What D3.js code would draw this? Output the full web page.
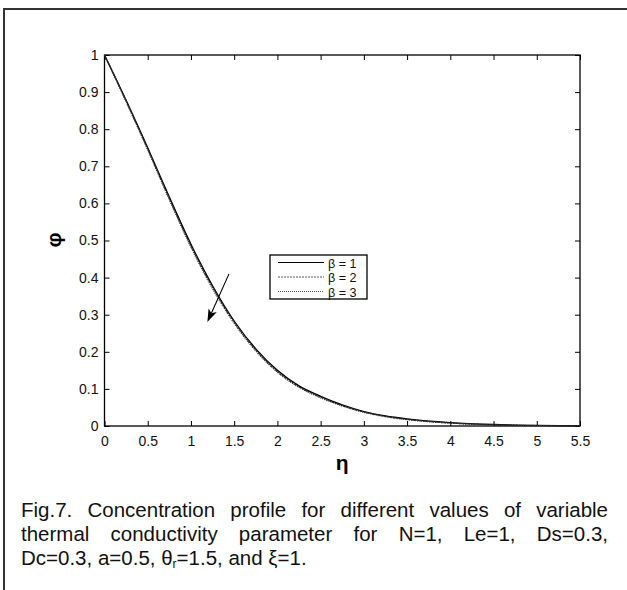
<!DOCTYPE html>
<html>
    <head>
        <title>Concentration profile</title>
        <script src="https://d3js.org/d3.v7.min.js"></script>
    </head>
    <style>
        body { margin: 0; background: #fff; }
        svg { font-family: "Liberation Sans", Arial, sans-serif; }
    </style>
    <body>
        <div class="graph"></div>
        <script>
            // eta values shared by all three curves
            const eta = [0, 0.25, 0.5, 0.75, 1.0, 1.25, 1.5, 1.75, 2.0, 2.25, 2.5, 2.75, 3.0, 3.25, 3.5, 4.0, 4.5, 5.0, 5.5];

            const phiBeta1 = [1, 0.878, 0.750, 0.617, 0.490, 0.378, 0.283, 0.208, 0.150, 0.108, 0.080, 0.057, 0.039, 0.027, 0.019, 0.009, 0.004, 0.0015, 0.0005];
            const phiBeta2 = [1, 0.876, 0.747, 0.613, 0.486, 0.374, 0.280, 0.205, 0.147, 0.106, 0.078, 0.055, 0.038, 0.026, 0.018, 0.008, 0.0035, 0.0012, 0.0004];
            const phiBeta3 = [1, 0.874, 0.744, 0.610, 0.482, 0.370, 0.277, 0.202, 0.145, 0.104, 0.076, 0.054, 0.037, 0.025, 0.017, 0.008, 0.003, 0.001, 0.0003];

            const seriesNames = ['\u03b2 = 1', '\u03b2 = 2', '\u03b2 = 3'];
            const xTicks = [0, 0.5, 1, 1.5, 2, 2.5, 3, 3.5, 4, 4.5, 5, 5.5];
            const yTicks = [0, 0.1, 0.2, 0.3, 0.4, 0.5, 0.6, 0.7, 0.8, 0.9, 1];

            // arrow annotation, in data units: [eta, phi] start and end
            const arrowFrom = [1.44, 0.41];
            const arrowTo = [1.19, 0.28];

            const captionLines = [
                'Fig.7. Concentration profile for different values of variable',
                'thermal conductivity parameter for N=1, Le=1, Ds=0.3,'
            ];

            const width = 627;
            const height = 590;
            const pLeft = 104.5, pRight = 580, pTop = 55, pBottom = 426;

            const x = d3.scaleLinear().domain([0, 5.5]).range([pLeft, pRight]);
            const y = d3.scaleLinear().domain([0, 1]).range([pBottom, pTop]);

            const svg = d3.select('.graph')
                .append('svg')
                .attr('width', width)
                .attr('height', height);

            // outer figure frame (only top and left visible)
            svg.append('path')
                .attr('d', `M4,${height} L4,9 L${width},9`)
                .attr('fill', 'none')
                .attr('stroke', '#333')
                .attr('stroke-width', 2);

            // ticks pointing inwards on all four sides
            const xAxisB = d3.axisBottom(x).tickValues(xTicks).tickSizeInner(-5).tickSizeOuter(0)
                .tickPadding(10).tickFormat(d3.format('~g'));
            const xAxisT = d3.axisTop(x).tickValues(xTicks).tickSizeInner(-5).tickSizeOuter(0).tickFormat('');
            const yAxisL = d3.axisLeft(y).tickValues(yTicks).tickSizeInner(-5).tickSizeOuter(0)
                .tickPadding(6).tickFormat(d3.format('~g'));
            const yAxisR = d3.axisRight(y).tickValues(yTicks).tickSizeInner(-5).tickSizeOuter(0).tickFormat('');

            const axes = [
                [xAxisB, `translate(0,${pBottom})`],
                [xAxisT, `translate(0,${pTop})`],
                [yAxisL, `translate(${pLeft},0)`],
                [yAxisR, `translate(${pRight},0)`]
            ];
            axes.forEach(([ax, tr]) => {
                const g = svg.append('g').attr('transform', tr).call(ax);
                g.select('.domain').remove();
                g.selectAll('line').attr('stroke', '#000');
                g.selectAll('text')
                    .attr('font-family', '"Liberation Sans", Arial, sans-serif')
                    .attr('font-size', 14)
                    .attr('fill', '#111');
            });

            svg.append('rect')
                .attr('x', pLeft).attr('y', pTop)
                .attr('width', pRight - pLeft).attr('height', pBottom - pTop)
                .attr('fill', 'none')
                .attr('stroke', '#000')
                .attr('stroke-width', 1.3);

            const series = [
                { name: seriesNames[0], values: phiBeta1, color: '#000', dash: null },
                { name: seriesNames[1], values: phiBeta2, color: '#222', dash: '2,1' },
                { name: seriesNames[2], values: phiBeta3, color: '#333', dash: '1,1' }
            ];

            const line = d3.line()
                .x((d, i) => x(eta[i]))
                .y(d => y(d))
                .curve(d3.curveMonotoneX);

            series.forEach(s => {
                svg.append('path')
                    .datum(s.values)
                    .attr('d', line)
                    .attr('fill', 'none')
                    .attr('stroke', s.color)
                    .attr('stroke-width', 1.3)
                    .attr('stroke-dasharray', s.dash);
            });

            // arrow
            const x1 = x(arrowFrom[0]), y1 = y(arrowFrom[1]);
            const x2 = x(arrowTo[0]), y2 = y(arrowTo[1]);
            const ang = Math.atan2(y2 - y1, x2 - x1);
            const headLen = 13, headW = 4.5;
            const bx = x2 - headLen * Math.cos(ang), by = y2 - headLen * Math.sin(ang);
            const nx = -Math.sin(ang), ny = Math.cos(ang);
            const notch = 0.75;
            svg.append('line')
                .attr('x1', x1).attr('y1', y1)
                .attr('x2', x2 - headLen * notch * Math.cos(ang))
                .attr('y2', y2 - headLen * notch * Math.sin(ang))
                .attr('stroke', '#000').attr('stroke-width', 1.1);
            svg.append('path')
                .attr('d', `M${x2},${y2} L${bx + nx * headW},${by + ny * headW}
                    L${x2 - headLen * notch * Math.cos(ang)},${y2 - headLen * notch * Math.sin(ang)}
                    L${bx - nx * headW},${by - ny * headW} Z`)
                .attr('fill', '#000');

            // legend
            const lg = svg.append('g').attr('transform', 'translate(270,255)');
            lg.append('rect')
                .attr('width', 97).attr('height', 44)
                .attr('fill', '#fff').attr('stroke', '#000').attr('stroke-width', 1.3);
            series.forEach((s, i) => {
                const yy = 7.5 + i * 14.5;
                lg.append('line')
                    .attr('x1', 8).attr('x2', 54).attr('y1', yy).attr('y2', yy)
                    .attr('stroke', i === 0 ? '#000' : '#555')
                    .attr('stroke-width', 1)
                    .attr('stroke-dasharray', s.dash);
                lg.append('text')
                    .attr('x', 58).attr('y', yy + 5)
                    .attr('font-size', 12.6)
                    .attr('fill', '#111')
                    .text(s.name);
            });

            // axis labels
            svg.append('text')
                .attr('x', (pLeft + pRight) / 2).attr('y', 470)
                .attr('text-anchor', 'middle')
                .attr('font-size', 21).attr('font-weight', 'bold')
                .text('\u03b7');
            svg.append('text')
                .attr('transform', 'translate(61,240) rotate(-90)')
                .attr('text-anchor', 'middle')
                .attr('font-size', 21).attr('font-weight', 'bold')
                .text('\u03c6');

            // caption, first two lines justified
            const capLeft = 21, capRight = 608, capSize = 20.5;
            captionLines.forEach((txt, li) => {
                const words = txt.split(' ');
                const base = 517 + li * 24;
                const nodes = words.map(w => svg.append('text')
                    .attr('y', base).attr('font-size', capSize).attr('fill', '#111').text(w));
                const widths = nodes.map(n => n.node().getComputedTextLength());
                const gap = (capRight - capLeft - d3.sum(widths)) / (words.length - 1);
                let cx = capLeft;
                nodes.forEach((n, i) => { n.attr('x', cx); cx += widths[i] + gap; });
            });
            const last = svg.append('text')
                .attr('x', capLeft).attr('y', 565)
                .attr('font-size', capSize).attr('fill', '#111');
            last.append('tspan').text('Dc=0.3, a=0.5, \u03b8');
            last.append('tspan').attr('font-size', 12).attr('dy', 3).text('r');
            last.append('tspan').attr('dy', -3).text('=1.5, and \u03be=1.');
        </script>
    </body>
</html>
